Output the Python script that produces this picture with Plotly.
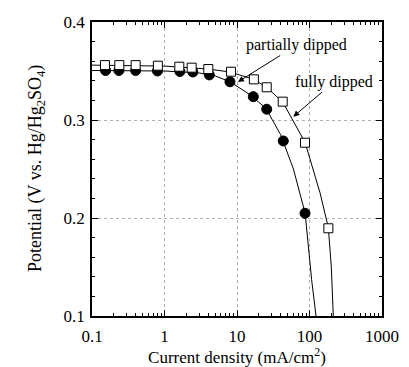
import plotly.graph_objects as go

partial_i = [0.154, 0.235, 0.40, 0.80, 1.63, 2.46, 4.15, 8.0, 16.8, 25.7, 43.5, 86.7]
partial_v = [0.3505, 0.3505, 0.3505, 0.350, 0.3495, 0.349, 0.346, 0.339, 0.3238, 0.311, 0.2786, 0.2048]

full_i = [0.151, 0.238, 0.40, 0.81, 1.6, 2.37, 4.02, 8.26, 17.1, 25.7, 42.7, 86.7, 182]
full_v = [0.356, 0.356, 0.356, 0.3554, 0.3544, 0.3534, 0.352, 0.3493, 0.3415, 0.3334, 0.3187, 0.2768, 0.1895]

# Fitted curves
partial_fit_i = [0.1, 1, 3, 5, 8, 15, 25, 40, 60, 87, 107, 123]
partial_fit_v = [0.3505, 0.350, 0.348, 0.345, 0.339, 0.326, 0.312, 0.285, 0.250, 0.205, 0.137, 0.10]

full_fit_i = [0.1, 1, 4, 8, 17, 26, 43, 87, 140, 182, 200, 213]
full_fit_v = [0.356, 0.355, 0.352, 0.349, 0.3415, 0.333, 0.318, 0.277, 0.2255, 0.19, 0.15, 0.10]

x_ticks = [0.1, 1, 10, 100, 1000]
x_ticktext = ["0.1", "1", "10", "100", "1000"]
y_ticks = [0.1, 0.2, 0.3, 0.4]
y_ticktext = ["0.1", "0.2", "0.3", "0.4"]

FONT = "Liberation Serif"

fig = go.Figure()
fig.add_trace(go.Scatter(x=partial_fit_i, y=partial_fit_v, mode="lines",
                         line=dict(color="black", width=1), showlegend=False))
fig.add_trace(go.Scatter(x=full_fit_i, y=full_fit_v, mode="lines",
                         line=dict(color="black", width=1), showlegend=False))
fig.add_trace(go.Scatter(x=partial_i, y=partial_v, mode="markers",
                         marker=dict(symbol="circle", size=10, color="black",
                                     line=dict(color="black", width=1)),
                         showlegend=False))
fig.add_trace(go.Scatter(x=full_i, y=full_v, mode="markers",
                         marker=dict(symbol="square", size=9, color="white",
                                     line=dict(color="black", width=1)),
                         showlegend=False))

minor_vals = [m * 10 ** e for e in range(-1, 3) for m in range(2, 10)]

fig.update_xaxes(type="log", range=[-1, 3], tickvals=x_ticks, ticktext=x_ticktext,
                 ticks="inside", ticklen=6, tickcolor="black", tickwidth=1,
                 showline=True, linecolor="black", linewidth=1.5, mirror="ticks",
                 showgrid=True, gridcolor="#b0b0b0", griddash="dot", gridwidth=1,
                 minor=dict(tickvals=minor_vals, ticks="inside", ticklen=3,
                            tickcolor="black", showgrid=False),
                 zeroline=False, ticklabelstandoff=4, automargin=False,
                 tickfont=dict(family=FONT, size=17, color="black"),
                 title=dict(text="Current density (mA/cm<sup>2</sup>)",
                            font=dict(family=FONT, size=17, color="black"),
                            standoff=4))
fig.update_yaxes(range=[0.1, 0.4], tickvals=y_ticks, ticktext=y_ticktext,
                 ticks="inside", ticklen=6, tickcolor="black", tickwidth=1,
                 showline=True, linecolor="black", linewidth=1.5, mirror="ticks",
                 showgrid=True, gridcolor="#b0b0b0", griddash="dot", gridwidth=1,
                 minor=dict(dtick=0.02, ticks="inside", ticklen=3,
                            tickcolor="black", showgrid=False),
                 zeroline=False, ticklabelstandoff=2, automargin=False,
                 tickfont=dict(family=FONT, size=17, color="black"))

fig.add_annotation(x=-1, y=0.25, xref="x", yref="y", showarrow=False,
                   text="Potential (V vs. Hg/Hg<sub>2</sub>SO<sub>4</sub>)",
                   textangle=-90, xshift=-56,
                   font=dict(family=FONT, size=18, color="black"))

fig.add_annotation(x=1.0128, y=0.3388, xref="x", yref="y",
                   text="partially dipped", showarrow=True,
                   ax=59, ay=-37, arrowhead=2, arrowsize=1.2, arrowwidth=1,
                   arrowcolor="black",
                   font=dict(family=FONT, size=16, color="black"))
fig.add_annotation(x=1.7766, y=0.3034, xref="x", yref="y",
                   text="fully dipped", showarrow=True,
                   ax=41, ay=-35, arrowhead=2, arrowsize=1.2, arrowwidth=1,
                   arrowcolor="black",
                   font=dict(family=FONT, size=16, color="black"))

fig.update_layout(width=409, height=367,
                  margin=dict(l=92, r=27, t=22, b=51),
                  paper_bgcolor="white", plot_bgcolor="white",
                  showlegend=False)

fig.write_html("out.html")
